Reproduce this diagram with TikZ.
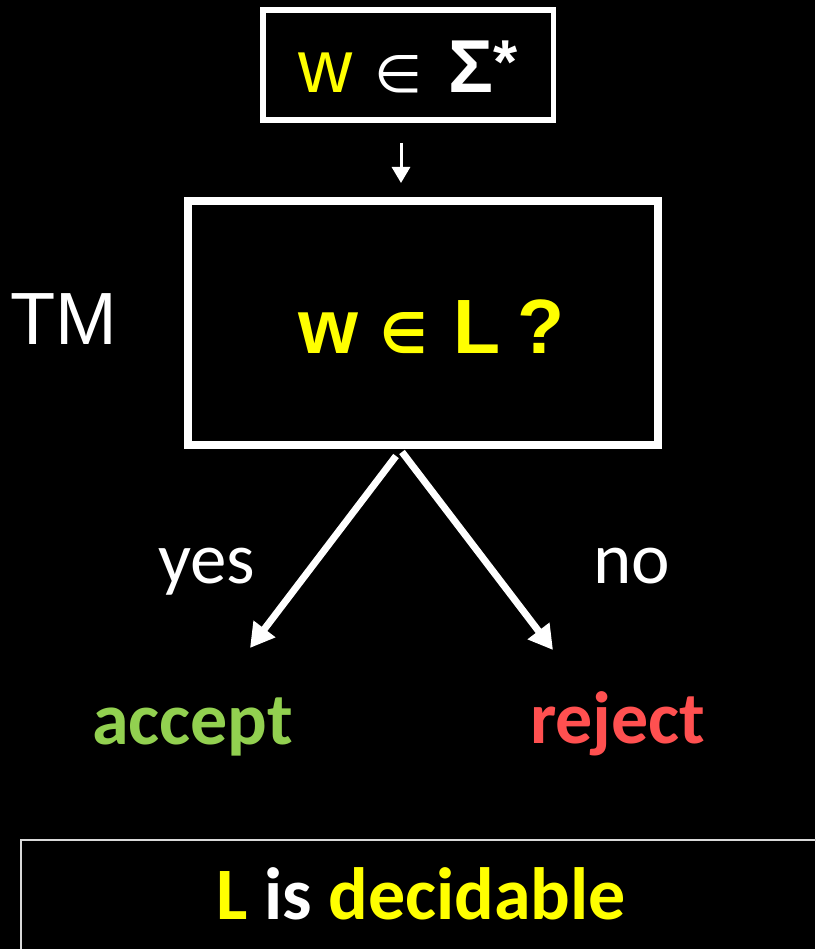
\documentclass[tikz,border=0pt]{standalone}
\usepackage{fontspec}
\usetikzlibrary{arrows.meta}
\newfontfamily\arialfont{Liberation Sans}
\newfontfamily\calfont{Carlito}
\newfontfamily\symfont{DejaVu Sans}
\definecolor{hlyellow}{HTML}{FFFF00}
\definecolor{okgreen}{HTML}{92D050}
\definecolor{badred}{HTML}{FF5050}
\newcommand{\fsz}[1]{\fontsize{#1}{#1}\selectfont}
\newcommand{\elem}[2]{\resizebox{#1}{#2}{\symfont ∈}}
\tikzset{
  frame/.style={draw=white, fill=black, inner sep=0pt},
  txt/.style={anchor=base west, inner sep=0pt, outer sep=0pt},
  bigarrow/.style={draw=white, line width=7pt, -{Triangle[width=26pt,length=24pt]}},
}
\begin{document}
\begin{tikzpicture}[x=1pt,y=-1pt]
  % canvas
  \fill[black] (0,0) rectangle (815,949);
  \useasboundingbox (0,0) rectangle (815,949);

  % input box
  \node[frame, line width=5.5pt, minimum width=290.5pt, minimum height=110pt] (input) at (408,65) {};
  \node[txt, white] (inputtxt) at (298,93)
    {\arialfont\fsz{75}\rlap{\color{hlyellow}w}\hspace{76pt}\rlap{\elem{48pt}{37pt}}\hspace{74pt}\textbf{Σ\raisebox{9pt}{\fsz{62}*}}};

  % machine box
  \node[frame, line width=8pt, minimum width=470pt, minimum height=243.5pt] (tm) at (422.5,323) {};
  \node[txt, hlyellow] (question) at (298,353)
    {\arialfont\bfseries\fsz{77}\rlap{w}\hspace{82pt}\rlap{\elem{47pt}{41pt}}\hspace{73pt}\rlap{L}\hspace{65pt}?};
  \node[txt, white] (tmlabel) at (10,344) {\arialfont\fsz{74}TM};

  % input arrow
  \coordinate (inA) at (401,143);
  \coordinate (inB) at (401,183);
  \draw[white, line width=3pt, -{Triangle[width=18pt,length=16pt]}] (inA) -- (inB);

  % outcome arrows
  \coordinate (yesA) at (396,456);
  \coordinate (yesB) at (250,648);
  \coordinate (noA) at (402,452);
  \coordinate (noB) at (553,650);
  \draw[bigarrow] (yesA) -- (yesB);
  \draw[bigarrow] (noA) -- (noB);

  \node[txt, white] (yes) at (158,583) {\calfont\fsz{73}yes};
  \node[txt, white] (no) at (593,583) {\calfont\fsz{73}no};
  \node[txt, okgreen] (accept) at (92,744) {\calfont\bfseries\fsz{74}accept};
  \node[txt, badred] (reject) at (530,743) {\calfont\bfseries\fsz{74}reject};

  % conclusion box
  \draw[white!85!black, line width=1.5pt] (830,840) -- (21,840) -- (21,960);
  \node[txt, hlyellow] (verdict) at (216,919)
    {\calfont\bfseries\fsz{74}L {\color{white}is} decidable};
\end{tikzpicture}
\end{document}
